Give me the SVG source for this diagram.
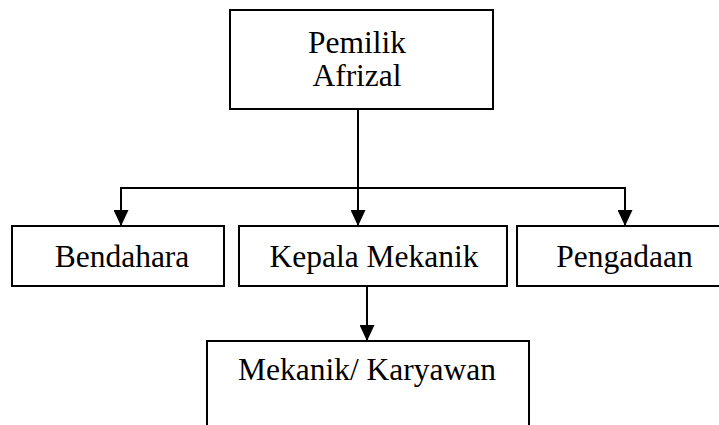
<svg xmlns="http://www.w3.org/2000/svg" width="719" height="425" viewBox="0 0 719 425">
<defs>
<style>
.box{fill:#fff;stroke:#000;stroke-width:2}
.lbl{font-family:"Liberation Serif","Times New Roman",serif;font-size:31.5px;fill:#000;text-anchor:middle}
.ln{fill:none;stroke:#000;stroke-width:2}
</style>
<marker id="ah" markerWidth="16" markerHeight="15" refX="16" refY="7.5" orient="auto" markerUnits="userSpaceOnUse" viewBox="0 0 16 15">
<path d="M0,0 L16,7.5 L0,15 Z" fill="#000"/>
</marker>
</defs>
<rect width="719" height="425" fill="#fff"/>
<g id="connectors">
<path class="ln" d="M358,109 V226" marker-end="url(#ah)"/>
<path class="ln" d="M358,188 H121 V226" marker-end="url(#ah)"/>
<path class="ln" d="M358,188 H625 V226" marker-end="url(#ah)"/>
<path class="ln" d="M367,286 V341" marker-end="url(#ah)"/>
</g>
<g id="pemilik">
<rect class="box" x="230" y="10" width="263" height="99"/>
<text class="lbl" x="357" y="53">Pemilik</text>
<text class="lbl" x="357" y="86">Afrizal</text>
</g>
<g id="bendahara">
<rect class="box" x="12" y="226" width="212" height="60"/>
<text class="lbl" x="122" y="267">Bendahara</text>
</g>
<g id="kepala-mekanik">
<rect class="box" x="239" y="226" width="268" height="60"/>
<text class="lbl" x="374" y="267">Kepala Mekanik</text>
</g>
<g id="pengadaan">
<rect class="box" x="517" y="226" width="220" height="60"/>
<text class="lbl" x="624.5" y="267">Pengadaan</text>
</g>
<g id="mekanik-karyawan">
<rect class="box" x="207" y="341" width="322" height="110"/>
<text class="lbl" x="367" y="380">Mekanik/ Karyawan</text>
</g>
</svg>
